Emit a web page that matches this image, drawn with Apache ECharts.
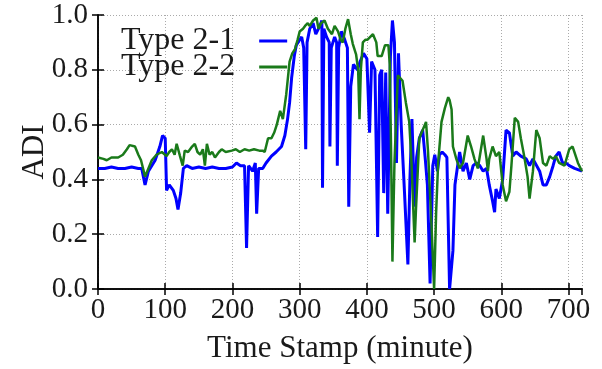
<!DOCTYPE html>
<html>
<head>
<meta charset="utf-8">
<script src="https://cdn.jsdelivr.net/npm/echarts@6/dist/echarts.min.js"></script>
<style>
  html, body { margin: 0; padding: 0; background: #fff; }
  #adi_chart { width: 602px; height: 369px; }
</style>
</head>
<body>
<!-- chart container -->
<div id="adi_chart"></div>
<script>
  // Type 2-1 (blue)
  var blueTime = [0, 10, 20, 30, 40, 50, 60, 65, 70, 75, 85, 92, 96, 100, 102, 106, 112, 116, 119, 123,
    127, 132, 140, 150, 160, 170, 180, 190, 200, 206, 212, 218, 221, 224, 230, 234, 236, 239, 245, 250,
    258, 265, 273, 278, 282, 285, 288, 292, 295, 300, 303, 306, 309, 311, 315, 320, 324, 330, 333, 334,
    336, 340, 344, 345, 347, 352, 355, 356, 358, 362, 367, 371, 373, 376, 380, 386, 390, 395, 400, 404,
    407, 412, 416, 419, 422, 425, 428, 431, 435, 438, 441, 444, 447, 451, 456, 461, 464, 467, 471, 474,
    478, 483, 487, 490, 494, 498, 501, 505, 508, 512, 516, 519, 523, 528, 531, 535, 538, 543, 548, 553,
    558, 563, 568, 573, 578, 582, 587, 590, 592, 597, 602, 607, 612, 617, 622, 629, 637, 642, 647, 657,
    662, 667, 672, 677, 681, 686, 691, 696, 701, 709, 720]
  var blueAdi = [0.44, 0.44, 0.445, 0.44, 0.44, 0.445, 0.44, 0.44, 0.38, 0.43, 0.47, 0.52, 0.56, 0.55, 0.36, 0.38, 0.36, 0.33, 0.29, 0.35,
    0.44, 0.45, 0.44, 0.445, 0.44, 0.445, 0.44, 0.44, 0.445, 0.46, 0.45, 0.45, 0.15, 0.45, 0.43, 0.46, 0.275, 0.44, 0.44, 0.46,
    0.485, 0.50, 0.52, 0.56, 0.62, 0.68, 0.77, 0.85, 0.89, 0.91, 0.92, 0.88, 0.51, 0.90, 0.95, 0.97, 0.93, 0.96, 0.98, 0.37,
    0.95, 0.92, 0.90, 0.52, 0.88, 0.92, 0.90, 0.45, 0.88, 0.94, 0.91, 0.88, 0.30, 0.74, 0.82, 0.80, 0.83, 0.86, 0.84, 0.57,
    0.83, 0.80, 0.19, 0.78, 0.80, 0.35, 0.79, 0.275, 0.85, 0.98, 0.90, 0.46, 0.86, 0.60, 0.35, 0.09, 0.40, 0.62, 0.30, 0.48,
    0.55, 0.58, 0.47, 0.38, 0.02, 0.45, 0.49, 0.43, 0.49, 0.50, 0.49, 0.48, 0.0, 0.14, 0.38, 0.45, 0.50, 0.43, 0.46, 0.40,
    0.45, 0.46, 0.45, 0.43, 0.44, 0.38, 0.32, 0.28, 0.365, 0.33, 0.40, 0.58, 0.57, 0.485, 0.50, 0.485, 0.475, 0.45, 0.475, 0.43,
    0.38, 0.38, 0.41, 0.45, 0.485, 0.50, 0.46, 0.46, 0.45, 0.44, 0.43]

  // Type 2-2 (green)
  var greenTime = [0, 8, 13, 20, 30, 37, 43, 47, 55, 60, 64, 70, 75, 80, 87, 95, 102, 106, 110, 114,
    117, 122, 126, 129, 134, 140, 144, 148, 152, 156, 159, 162, 166, 170, 174, 180, 184, 190, 199, 205,
    211, 218, 225, 232, 240, 245, 248, 253, 258, 262, 266, 271, 275, 280, 285, 289, 293, 297, 300, 305,
    308, 312, 315, 320, 325, 328, 332, 337, 342, 348, 352, 357, 361, 364, 368, 372, 376, 379, 384, 387,
    389, 391, 394, 398, 401, 405, 409, 414, 416, 422, 427, 432, 434, 436, 438, 441, 446, 453, 458, 463,
    466, 471, 473, 478, 483, 488, 491, 496, 500, 503, 506, 511, 516, 521, 523, 526, 528, 533, 538, 543,
    550, 555, 560, 565, 573, 578, 580, 582, 587, 592, 597, 602, 607, 612, 615, 620, 625, 629, 634, 639,
    642, 647, 652, 657, 662, 667, 672, 677, 681, 686, 694, 701, 706, 714, 720]
  var greenAdi = [0.48, 0.475, 0.47, 0.48, 0.48, 0.49, 0.51, 0.525, 0.52, 0.49, 0.47, 0.41, 0.44, 0.47, 0.49, 0.50, 0.485, 0.50, 0.51, 0.49,
    0.53, 0.485, 0.45, 0.505, 0.50, 0.52, 0.53, 0.50, 0.49, 0.51, 0.45, 0.53, 0.49, 0.50, 0.48, 0.50, 0.51, 0.50, 0.505, 0.51,
    0.50, 0.51, 0.505, 0.51, 0.505, 0.505, 0.50, 0.55, 0.55, 0.57, 0.60, 0.65, 0.62, 0.71, 0.83, 0.86, 0.875, 0.91, 0.94, 0.95,
    0.96, 0.97, 0.96, 0.98, 0.99, 0.95, 0.97, 0.98, 0.95, 0.93, 0.96, 0.94, 0.91, 0.90, 0.95, 0.985, 0.93, 0.895, 0.855, 0.80,
    0.62, 0.80, 0.90, 0.91, 0.91, 0.92, 0.93, 0.90, 0.85, 0.85, 0.89, 0.89, 0.82, 0.50, 0.10, 0.46, 0.78, 0.76, 0.68, 0.61,
    0.48, 0.17, 0.29, 0.55, 0.58, 0.61, 0.50, 0.24, 0.0, 0.28, 0.46, 0.61, 0.66, 0.70, 0.69, 0.655, 0.52, 0.475, 0.44, 0.46,
    0.56, 0.52, 0.475, 0.44, 0.56, 0.475, 0.43, 0.475, 0.52, 0.485, 0.50, 0.38, 0.32, 0.355, 0.45, 0.625, 0.61, 0.55, 0.485, 0.41,
    0.33, 0.43, 0.58, 0.55, 0.46, 0.45, 0.485, 0.475, 0.485, 0.46, 0.45, 0.51, 0.52, 0.46, 0.43]

  var seriesNames = ['Type 2-1', 'Type 2-2']
  var xTicks = { min: 0, max: 720, step: 100 }
  var yTicks = { min: 0, max: 1, step: 0.2 }

  var font = 'Liberation Serif'

  function pairs (xs, ys) {
    return xs.map(function (x, i) { return [x, ys[i]] })
  }

  // mirror axis (top / right) with ticks only, gnuplot style
  function mirrorAxis (pos, ticks) {
    return {
      type: 'value',
      position: pos,
      min: ticks.min,
      max: ticks.max,
      interval: ticks.step,
      axisLine: { show: true, lineStyle: { color: '#000', width: 1.5 } },
      axisTick: { show: true, inside: true, length: 6, lineStyle: { color: '#000', width: 1.5 } },
      axisLabel: { show: false },
      splitLine: { show: false }
    }
  }

  var chart = echarts.init(document.getElementById('adi_chart'))
  var option = {
    animation: false,
    backgroundColor: '#fff',
    color: ['#0000ff', '#1a7a1a'],
    textStyle: { fontFamily: font, color: '#000' },
    grid: { left: 98, right: 20, top: 15, bottom: 78, containLabel: false },
    legend: {
      orient: 'vertical',
      left: 116,
      top: 20,
      align: 'right',
      itemWidth: 28,
      itemHeight: 3,
      itemGap: -6,
      icon: 'rect',
      textStyle: { fontFamily: font, fontSize: 32, color: '#1a1a1a', lineHeight: 26, padding: [0, 19, 0, 0] },
      data: seriesNames
    },
    xAxis: [
      {
        type: 'value',
        position: 'bottom',
        min: xTicks.min,
        max: xTicks.max,
        interval: xTicks.step,
        name: 'Time Stamp (minute)',
        nameLocation: 'middle',
        nameGap: 44,
        nameTextStyle: { fontFamily: font, fontSize: 31, color: '#1a1a1a' },
        axisLine: { show: true, lineStyle: { color: '#000', width: 1.5 } },
        axisTick: { show: true, inside: true, length: 6, lineStyle: { color: '#000', width: 1.5 } },
        axisLabel: { fontFamily: font, fontSize: 29, color: '#1a1a1a', margin: 7, showMaxLabel: false },
        splitLine: { show: true, lineStyle: { color: '#aaa', width: 1, type: [1, 2] } }
      },
      mirrorAxis('top', xTicks)
    ],
    yAxis: [
      {
        type: 'value',
        position: 'left',
        min: yTicks.min,
        max: yTicks.max,
        interval: yTicks.step,
        name: 'ADI',
        nameLocation: 'middle',
        nameGap: 48,
        nameMoveOverlap: false,
        nameTextStyle: { fontFamily: font, fontSize: 31, color: '#1a1a1a' },
        axisLine: { show: true, lineStyle: { color: '#000', width: 1.5 } },
        axisTick: { show: true, inside: true, length: 6, lineStyle: { color: '#000', width: 1.5 } },
        axisLabel: {
          fontFamily: font, fontSize: 29, color: '#1a1a1a', margin: 10,
          formatter: function (v) { return v.toFixed(1) }
        },
        splitLine: { show: true, lineStyle: { color: '#aaa', width: 1, type: [1, 2] } }
      },
      mirrorAxis('right', yTicks)
    ],
    series: [
      {
        name: seriesNames[0],
        type: 'line',
        showSymbol: false,
        lineStyle: { width: 3 },
        data: pairs(blueTime, blueAdi)
      },
      {
        name: seriesNames[1],
        type: 'line',
        showSymbol: false,
        lineStyle: { width: 2.5 },
        data: pairs(greenTime, greenAdi)
      }
    ]
  }
  chart.setOption(option)
</script>
</body>
</html>
